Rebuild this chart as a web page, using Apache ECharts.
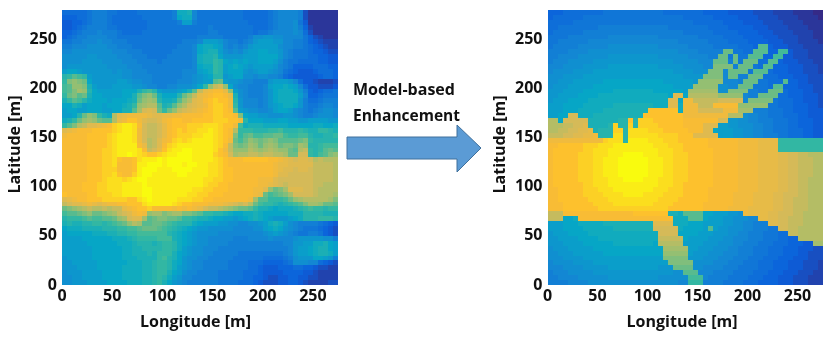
<!DOCTYPE html>
<html><head><meta charset="utf-8">
<style>html,body{margin:0;padding:0;background:#fff}#c{width:831px;height:341px}#c canvas{filter:blur(.55px)}</style>
<script src="https://cdn.jsdelivr.net/npm/echarts@6/dist/echarts.min.js"></script></head>
<body><div id="c"></div>
<script>
// Cell values, base-36 digit per 5 m cell (0 = weakest, z = strongest); rows run from north to south.
const measured = [
"66666 78887 76666 77777 778ee f9777 77777 76666 67899 99831 11111",
"55566 78887 66666 67777 778de e9777 77777 76666 67899 99831 11111",
"44556 78887 66666 66777 7778c c8777 77777 77666 67899 9a741 11111",
"44567 88887 76666 66777 77777 77778 77777 77766 67899 9a852 11111",
"55678 88988 87666 67777 77777 77778 87777 77767 78999 9a963 11111",
"56788 99998 87777 77777 77777 77888 88777 778aa bbaa9 99975 32111",
"77889 99a99 88877 77777 77778 889cc cb988 789bc ccbb9 98875 43222",
"88999 aaaa9 98887 77777 77788 89dee dc989 89bcc ccca9 98876 54322",
"99aaa aaaaa 99988 87777 77888 89def fca9a 9bccd dccb9 87776 55433",
"aaaaa bbaaa a9998 88777 78888 89eff gdbbb bcccd dddb9 87776 65544",
"aaaab bbbaa aa999 88887 88888 89eff hgdcd cdccd ddca8 77666 65544",
"abbbb bbbba aaa99 98888 88888 89dee hgcde dcbcc ccb98 75555 66655",
"cddcb bbbbb abaa9 99888 88889 99cde hgcdd dbabc cba97 65444 56665",
"ghjih cbbbb bbaa9 99988 88889 9abcd ggbcd daa9a a9986 54444 45665",
"hlmlk dbbbb bccba a9988 88899 9abcc jkcbb a9988 8bccc b9644 32223",
"ijmml fcbbb ccccb ba998 899aa abdhm pqmda 99888 9cdde dc964 43334",
"ijlnm gdccc ccddd fhigc bbbcd fjpst uusmc a9888 9bdee edb85 45667",
"hkljk fddcc ccddf jlmkf dddgk mpstu vvusf a9888 9bdee eec95 56777",
"fhjig edddc dddef kmnmg eefjm orsuv wvvtg b9998 9bdee eeb86 67888",
"ddfec dddcd ddefh mnooj fgjmo qrstv wwvth b9998 9bcde edb87 78998",
"cddcc dddcc ddffj nqrqk hkmpq rstuv wwvuj cbaa9 9acdd ca987 89aa9",
"ccdgk mlhfe orstt ttsrr ssttu uuuvv wwvvu ldccb baaab ba988 9aaa9",
"efhkm nmkjj ostvv trqqr tuvvu uvvvv wwwvv tgddd cccdd ccbbc cccbb",
"hjlop rrstu wxyyx uqppq suvvv wwwxx xwvvt iefff eeeee ddddd eedde",
"rstuu uvvvv wxyyx tqppq suvwv wwxxy xwvuo hhhgg ghhig gghgf fhhgf",
"tuuuu vvvvw xyyyx tqppq suvww wxxyy xwvul hjkii jjkki hhiig ffggh",
"uuuuu vvvvw xyyyx tqopr tuwxw xyyyy xwvtk ikmlk lmljj jjklh ggggg",
"uuuuu vvvvw xyyyy usopr uwxyy yyyyy xwupl klnmk mnmkl lknmg ghiii",
"uuuuu vvvww xyyyy xupqs vxyyz zyyyy xvtpm mmonm nonmm kjoph ghjkj",
"uuuuu vvvww xyyzy xwvvw xyyzz zyyyy wvuqn ooppo ppoon kkqqh gijlm",
"uuuuu vvvww xvuuv xyyyz yzzzz zyyyy xwvuu uvvvv vuuts rqrrq opooo",
"uuuuu vvvww xuuuv yyzzz yzzzy zzyyx xwvuu uuuuu uutss rrrrr ppppo",
"uuuuu vvvww wuuuv yzzzy yyzzz zyyyx xwvvu uuuuu uutsr rqrrq ppppo",
"uuuuu vvvww xvuuw yzzyy yyyzz yyyyx xwvvu uuuuu uutrr qqqqq ppppo",
"uuuuu vvvwx xxwxy zzyyy yyyyy yyyxx wwvvu uuuut ttrqq qqqqq ppppo",
"uuuuv vvwwx xxyyy yzyyy yyyyy yyyxw wvvuu uuuut tsrqp qqqqq ppooo",
"uuuuv vvwwx xxyyy yzzyy yyyyy yxxww vvvuu uuutt rmkln rrrqq poooo",
"vuuuu vvwww xxyyy yzzyy yyyyy xxwwv vvuuu uuuts kijkl nqqqq pooon",
"rstuu vvvww wwwvv xyzyy yyyxx xwwvv uuuuu uutnj jhhhi kmnoo ooonl",
"pqrrs tsrst tuuvv vxyyy yyxwv vuuut ttsrq pqoki hhgfg hijln nmkkj",
"klmno poopo ppstu vvwuu uutut utsqp ponml kkjhf fedee efghi hhghh",
"ijjkl mkklm npqrt utmnn lmnnl lkjhh ggfed deefe ddddd eeegg ggfff",
"ghhhi jiijj kmnqr rnjkl lkkjh hgffe ddccb cdefe dcbbb cdegg ghhhg",
"fgffg ghhgh ijkmo njjkk jihgg gedcc cbbaa 99aab cefec a9888 87654",
"deeef fffgg ghhii jkkkj ihgfe dcbba aaaa9 999aa cdedb a9877 76543",
"cdddd deeef fgghh iiiii igfed cbaaa a9999 99999 abcba 98778 87543",
"ccccd ddddd eeefg hhhhi iifed cbaa9 99998 88999 9a999 9abbb bbaa8",
"ccccc ddddd deeef gggfg hhged cbaa9 99988 88888 88889 9bbcc eefdc",
"ccccc cdddd ddeef fgggg hhgec baa99 98888 88888 88888 9bccd effdc",
"ccccc cdddd ddeef ffgfh hhfdc baa99 88888 77777 77778 9bccd effec",
"bcccc cdddd ddeee ffffh igfdb aa998 88887 77777 66667 8abbb ddcb8",
"bbccc ccddd dddee effgh hgedb a9988 88877 77666 55556 7aaa9 96543",
"bbbcc ccddd ddeee effgh hgecb a9988 88877 77665 44455 56655 43322",
"abbbc cccdd ddeee effgh hfdca 99888 87777 76665 44445 55544 32222",
"aabbc cccdd ddeee effgh gecb9 98888 87777 76655 43344 55443 32222",
"aabbb ccccd dddee effgh fdba9 88888 87777 66654 33344 55432 22233"
];
const enhanced = [
"555 66666666 777777 777777 66666666 55555 44444 3333 2222 1111 00",
"5 666666 7777777777 7777777777 666666 55555 4444 3333 2222 1111 0",
"66666 777777777777 777777777777 666666 5555 4444 3333 2222 1111",
"66 77777777 8888888 8888888 77777777 6666 55555 444 3333 2222 111",
"6 777777 8888888888 8888888888 777777 66666 5555 444 3333 2222 11",
"7777 88888888 99999 99999 88888888 77777 6666 5555 444 3333 222 11",
"77 888888 999999999 999999999 888888 7777 6666 5555 444 333 2222 1",
"7 88888 999999 aaaaa aaaaa 999999 88888 77777 666 5 jj 5 444 333 2222",
"8888 9999 aaaaaaaaa aaaaaaaaa 9999 88888 kk 77 66 jjj 55 ii 4 333 222",
"88 9999 aaaaaa bbbbb bbbbb aaaaaa 9999 88 kk7k 77 jjj 55 ii 44 333 222",
"8 999 aaaaa bbbbbbbb bbbbbbbb aaaaa 999 kkk 8 k 7 kkk 66 jj 5 444 333 22",
"999 aaaa bbbbb ccccc ccccc bbbbb aaaa 99 llll 8 kkk 7 6 jj 555 444 333 2",
"9 aaaa bbbb cccccccc cccccccc bbbb aaa lll 9 kkkk 7 jjj 6 555 444 333 2",
"aaa bbbb cccccccccc cccccccccc bbbb llll 9 kk 88 kkk 666 555 444 333",
"aa bbb cccccc dddddd dddddd cccccc b mmmmm 999 8 kkk 77 666 j 55 44 333",
"a bbb ccccc dddddddd dddddddd cccc mmmmm aa 99 kkk 777 6 jj 555 444 33",
"bbb cccc dddddd eeee eeee dddddd c nnnnnn aa llll 88 77 kkk 6 555 44 33",
"bb cccc dddd eeeeeee eeeeeee d rr d oooooo mmmmm 9 88 kkkk 66 555 444 3",
"b ccc dddd eeeeeeeee eeeeeee rr d tt ppppp qqqqq 9 lllll 7 666 55 444 3",
"ccc dddd eeeeee ffff ffff eee rr e ttt ppp uuuuu mmmmmm 77 666 555 44 3",
"ccc ddd eeeee ffffff fff vvvvvv e ttt qqqqq ttt nnn 888 777 66 555 444",
"cc dd qq eee ffffffff ff vvvvvvvv ttttttttt ooo a 99 88 777 666 55 444",
"oo d qqqqq ffffff gg v g www vvvvvv uuuuuuu qq bb aa 99 888 777 66 555 44",
"ooo pp qq r ffff g w gg w g wwww vvvvv uuuu rrr cc bb aaa 99 88 777 66 555 44",
"oo pp qq rr s f ggg ww g x xxx www vvvvv uuu rr d ccc bb aa 99 88 777 666 55 44",
"ppp qq rr ss t ggg xx g x xxxxx wwww vvv rrrrr ccc bb aa 99 888 77 666 55 44",
"ttttttttttt w xxx g y yyy xxx www vvvvvv uuuuuu tttt ssss hhhhhhhhh",
"uu vvvvv www xxx yyyy yyyy xxx www vvvvv uuuuuu tttt ssss hhhhhhhhh",
"u vvvvvv ww xxx yyyyy yyyyy xxx ww vvvvvv uuuuu tttt ssss hhhhhhhhh",
"u vvvvv www xxx yyy zz zz yyy xxx www vvvvv uuuuu tttt ssss rr qq pp ooo",
"u vvvvv www xx yyy zzz zzz yyy xx www vvvvv uuuuu tttt ssss rr qq ppp oo",
"u vvvvv www xx yyy zzz zzz yyy xx www vvvvv uuuuu tttt ssss rr qq ppp oo",
"u vvvvv www xx yyy zzz zzz yyy xx www vvvvv uuuuu tttt ssss rr qq ppp oo",
"u vvvvv www xx yyy zzz zzz yyy xx www vvvvv uuuuu tttt ssss rr qq ppp oo",
"u vvvvv www xxx yyy zz zz yyy xxx www vvvvv uuuuu tttt ssss rr qq pp ooo",
"u vvvvvv ww xxx yyyyy yyyyy xxx ww vvvvvv uuuuu tttt ssss rr qq pp ooo",
"uu vvvvv www xxx yyyy yyyy xxx www vvvvv uuuuuu tttt ssss rr qq pp ooo",
"uu vvvvv wwww xxxx yy yy xxxx wwww vvvvv uuuuu tttt ssss rr qqq pp ooo",
"uu vvvvvv wwww xxxxx xxxxx wwww vvvvvv uuuuu tttt ssss rr qq ppp ooo",
"uuu vvvvvv wwww xxxx xxxx wwww vvvvvv uuuuuu tttt ssss rr qq ppp ooo",
"uuu vvvvvvv wwwwwww wwwwwww vvvvvvv uuuuu tttt sssss rr qq ppp ooo",
"ppp uuuuuuuuuuuuuu vvvvvvv ff e jjjj dd ccc bb a t ssss rr qqq pp oooo",
"ppp dd e uuuuuuuuuuu uuuuuuuu eee jjj d ccc bb aaa 99 ss rr qq ppp oooo",
"ccc ddd eeeee ffffff ffff rrrr eee ddd cccc bb aa 99 888 rr qq ppp oooo",
"ccc dddd eeeeee ffff ffff qqqqq e dddd c j c bb aaa 99 888 77 qq pp ooooo",
"b ccc dddd eeeeeeeee eeeee qqqq dddd ccc bbb aa 99 888 777 66 pp ooooo",
"bb cccc dddd eeeeeee eeeee ppppp d cccc bbb aa 999 888 777 66 55 ooooo",
"bbb cccc dddddd eeee eeee d ooooo cccc bbb aaa 99 888 777 666 555 44 nn",
"a bbb ccccc dddddddd dddddd nnnnn cc bbb aaa 99 888 777 666 555 444 33",
"aa bbb cccccc dddddd dddddd mmmmm c bbb aaa 999 888 777 666 555 44 333",
"aaa bbbb cccccccccc cccccc lllll bbb aaa 999 888 777 666 555 444 333",
"9 aaaa bbbb cccccccc ccccccc lllll aaaa 999 888 777 666 555 444 333 2",
"999 aaaa bbbbb ccccc ccccc bbb kkkk aa 9999 888 7777 666 555 444 333 2",
"8 999 aaaaa bbbbbbbb bbbbbbbb aa jjj 999 8888 7777 666 555 444 333 22",
"88 9999 aaaaaa bbbbb bbbbb aaaaaa iii 9 8888 7777 666 555 444 333 222",
"8888 9999 aaaaaaaaa aaaaaaaaa 99 hhh 8888 7777 666 5555 444 333 222"
];
const colormap = ['#352A87','#0A60DC','#1485D4','#06A7C6','#38B99E','#92BF73','#D9BA56','#FDBC30','#F9FB0E'];
const xMax = 275, yMax = 280, tickStep = 50, cell = 5;
const xName = 'Longitude [m]', yName = 'Latitude [m]';
const captionLines = ['Model-based', 'Enhancement'];
const font = '"Open Sans", sans-serif';

function toCells(rows) {
  const out = [];
  rows.forEach((row, r) => {
    const s = row.replace(/\s/g, '');
    if (s.length !== 55) throw new Error('row ' + r + ' has ' + s.length + ' cells');
    [...s].forEach((ch, c) => out.push([c * cell, yMax - (r + 1) * cell, parseInt(ch, 36)]));
  });
  return out;
}
function renderCell(params, api) {
  const a = api.coord([api.value(0), api.value(1)]);
  const b = api.coord([api.value(0) + cell, api.value(1) + cell]);
  const x = Math.round(a[0]), y = Math.round(b[1]);
  return {
    type: 'rect',
    shape: { x: x, y: y, width: Math.round(b[0]) - x + 1, height: Math.round(a[1]) - y + 1 },
    style: { fill: api.visual('color') }
  };
}
const labelStyle = { color: '#111', fontFamily: font, fontWeight: 'bold', fontSize: 16 };
function xAxis(i, shift) {
  return { type: 'value', gridIndex: i, min: 0, max: xMax, interval: tickStep, name: xName, nameLocation: 'middle', nameGap: 29,
    nameTextStyle: { ...labelStyle, padding: [0, shift, 0, 0] }, axisLabel: { ...labelStyle, margin: 3, showMaxLabel: false },
    axisLine: { show: false }, axisTick: { show: false }, splitLine: { show: false } };
}
function yAxis(i) {
  return { type: 'value', gridIndex: i, min: 0, max: yMax, interval: tickStep, name: yName, nameLocation: 'middle', nameGap: 39,
    nameTextStyle: { ...labelStyle, padding: [0, 0, 0, 6] }, axisLabel: { ...labelStyle, margin: 5, showMaxLabel: false },
    axisLine: { show: false }, axisTick: { show: false }, splitLine: { show: false } };
}
const chart = echarts.init(document.getElementById('c'), null, { renderer: 'canvas' });
chart.setOption({
  animation: false,
  backgroundColor: '#fff',
  grid: [
    { left: 62, top: 10, width: 276, height: 275 },
    { left: 547.5, top: 10, width: 275, height: 275 }
  ],
  xAxis: [xAxis(0, 9), xAxis(1, 6)],
  yAxis: [yAxis(0), yAxis(1)],
  visualMap: { show: false, min: 0, max: 35, dimension: 2, seriesIndex: [0, 1], inRange: { color: colormap } },
  series: [
    { type: 'custom', xAxisIndex: 0, yAxisIndex: 0, renderItem: renderCell, data: toCells(measured), encode: { x: 0, y: 1 }, clip: true, progressive: 0, silent: true },
    { type: 'custom', xAxisIndex: 1, yAxisIndex: 1, renderItem: renderCell, data: toCells(enhanced), encode: { x: 0, y: 1 }, clip: true, progressive: 0, silent: true }
  ],
  graphic: [
    { type: 'text', left: 353, top: 82, style: { text: captionLines[0], fill: '#111', font: 'bold 16px ' + font } },
    { type: 'text', left: 353, top: 109, style: { text: captionLines[1], fill: '#111', font: 'bold 15.5px ' + font } },
    { type: 'polygon', shape: { points: [[347,137],[457,137],[457,125],[481,148],[457,172],[457,159],[347,159]] },
      style: { fill: '#5B9BD5', stroke: '#41719C', lineWidth: 1 } }
  ]
});
</script></body></html>
